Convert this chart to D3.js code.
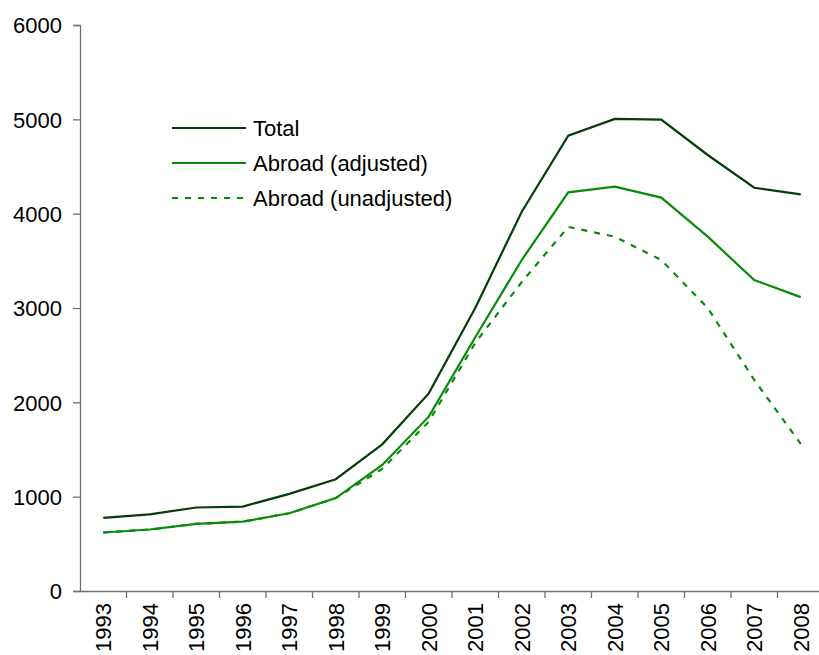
<!DOCTYPE html>
<html>
<head>
<meta charset="utf-8">
<script src="https://cdn.jsdelivr.net/npm/d3@7"></script>
<style>
body { margin: 0; background: #fff; }
svg text { font-family: "Liberation Sans", Arial, sans-serif; fill: #000; }
</style>
</head>
<body>
<svg width="819" height="655"></svg>
<script>
var years = ["1993","1994","1995","1996","1997","1998","1999","2000","2001","2002","2003","2004","2005","2006","2007","2008"];
var total = [775, 812, 885, 895, 1030, 1185, 1555, 2095, 3000, 4021, 4827, 5004, 4997, 4622, 4275, 4205];
var abroadAdj = [620, 652, 712, 735, 824, 985, 1336, 1848, 2690, 3509, 4226, 4286, 4170, 3756, 3297, 3115];
var abroadUnadj = [620, 652, 712, 735, 824, 985, 1295, 1795, 2630, 3276, 3860, 3756, 3509, 3000, 2237, 1560];
var yTicks = [0, 1000, 2000, 3000, 4000, 5000, 6000];

var series = [
    {name: "Total", values: total, color: "#063d06", dash: null},
    {name: "Abroad (adjusted)", values: abroadAdj, color: "#0a8a0a", dash: null},
    {name: "Abroad (unadjusted)", values: abroadUnadj, color: "#0a8a0a", dash: "6,7"}
];

var svg = d3.select("svg"),
    margin = {top: 25, left: 80},
    width = 744,
    height = 566;

var x = d3.scaleBand().domain(years).range([0, width]);
var y = d3.scaleLinear().domain([0, 6000]).range([height, 0]);

var g = svg.append("g")
    .attr("transform", "translate(" + margin.left + "," + margin.top + ")");

var yAxis = g.append("g")
    .call(d3.axisLeft(y).tickValues(yTicks).tickSize(7).tickPadding(11).tickFormat(d3.format("d")));
yAxis.selectAll("text").style("font-size", "22px").attr("dy", "0.36em");

var xAxis = g.append("g")
    .attr("transform", "translate(0," + height + ")")
    .call(d3.axisBottom(x).tickSize(0).tickFormat(""));

// tick marks between categories
g.append("g").selectAll("line")
    .data(years)
    .enter().append("line")
        .attr("x1", function(d) { return x(d) + x.bandwidth(); })
        .attr("x2", function(d) { return x(d) + x.bandwidth(); })
        .attr("y1", height)
        .attr("y2", height + 7);

g.append("g").selectAll("text")
    .data(years)
    .enter().append("text")
        .attr("transform", function(d) {
            return "translate(" + (x(d) + x.bandwidth() / 2 + 8) + "," + (height + 12) + ") rotate(-90)";
        })
        .attr("text-anchor", "end")
        .style("font-size", "22px")
        .text(function(d) { return d; });

g.selectAll(".domain, line").attr("stroke", "#707070").attr("stroke-width", 1.3);

var line = d3.line()
    .x(function(d, i) { return x(years[i]) + x.bandwidth() / 2; })
    .y(function(d) { return y(d); });

series.slice().reverse().forEach(function(s) {
    g.append("path")
        .datum(s.values)
        .attr("fill", "none")
        .attr("stroke", s.color)
        .attr("stroke-width", 2.2)
        .attr("stroke-dasharray", s.dash)
        .attr("d", line);
});

var legend = svg.append("g").attr("transform", "translate(172,128)");
series.forEach(function(s, i) {
    var row = legend.append("g").attr("transform", "translate(0," + (i * 35) + ")");
    row.append("line")
        .attr("x1", 0).attr("x2", 74)
        .attr("stroke", s.color)
        .attr("stroke-width", 2.2)
        .attr("stroke-dasharray", s.dash);
    row.append("text")
        .attr("x", 81)
        .attr("dy", "0.35em")
        .style("font-size", "22px")
        .text(s.name);
});
</script>
</body>
</html>
